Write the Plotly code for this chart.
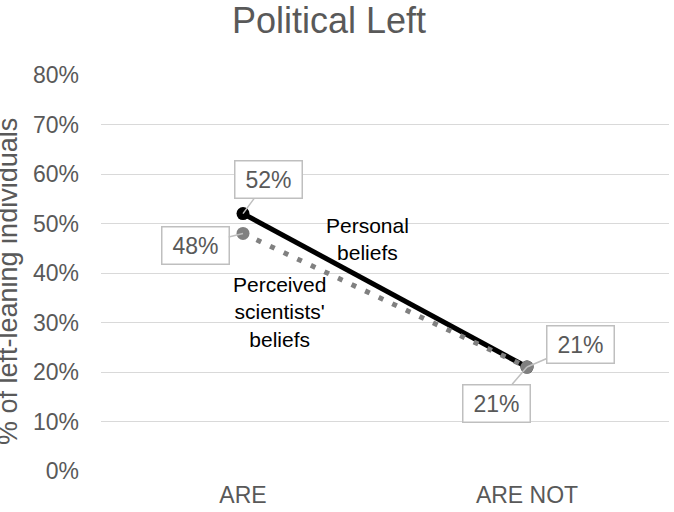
import plotly.graph_objects as go

categories = ["ARE", "ARE NOT"]
personal = [0.52, 0.21]
perceived = [0.48, 0.21]
tick_vals = [0, 0.1, 0.2, 0.3, 0.4, 0.5, 0.6, 0.7, 0.8]
tick_text = ["0%", "10%", "20%", "30%", "40%", "50%", "60%", "70%", "80%"]

FONT = "Liberation Sans, Arial"

fig = go.Figure()
fig.add_trace(go.Scatter(
    x=categories, y=personal, mode="lines+markers",
    line=dict(color="#000000", width=5),
    marker=dict(color="#000000", size=13, line=dict(width=0)),
    showlegend=False,
))
fig.add_trace(go.Scatter(
    x=categories, y=perceived, mode="lines+markers",
    line=dict(color="#808080", width=5, dash="5px,10px"),
    marker=dict(color="#808080", size=13, line=dict(width=0)),
    showlegend=False,
))

lab_font = dict(family=FONT, size=23, color="#595959")
box = dict(bordercolor="#BFBFBF", borderwidth=1.5, bgcolor="white", borderpad=3,
           width=60, height=30,
           showarrow=True, arrowhead=0, arrowcolor="#BFBFBF", arrowwidth=1.5, font=lab_font,
           xref="x", yref="y", axref="pixel", ayref="pixel")
ann = [
    dict(x=categories[0], y=personal[0], text="52%", ax=25, ay=-34, **box),
    dict(x=categories[0], y=perceived[0], text="48%", ax=-48, ay=12, **box),
    dict(x=categories[1], y=personal[1], text="21%", ax=53, ay=-23, **box),
    dict(x=categories[1], y=perceived[1], text="21%", ax=-31, ay=36, **box),
    dict(x=0.437, y=0.469, xref="x", yref="y", text="Personal<br>beliefs", showarrow=False,
         font=dict(family=FONT, size=21, color="#000000")),
    dict(x=0.13, y=0.321, xref="x", yref="y", text="Perceived<br>scientists'<br>beliefs", showarrow=False,
         font=dict(family=FONT, size=21, color="#000000")),
    dict(x=(8 - 101) / 568, y=(471 - 282) / 396, xref="paper", yref="paper",
         text="% of left-leaning individuals",
         textangle=-90, showarrow=False, xanchor="center", yanchor="middle",
         font=dict(family=FONT, size=27, color="#595959")),
]

fig.update_layout(
    width=674, height=512,
    margin=dict(l=101, r=5, t=75, b=41),
    paper_bgcolor="white", plot_bgcolor="white",
    title=dict(text="Political Left", x=329 / 674, xanchor="center", xref="container",
               y=1 - 20 / 512, yref="container", yanchor="middle",
               font=dict(family=FONT, size=36, color="#595959")),
    annotations=ann,
    xaxis=dict(type="category", range=[-0.5, 1.5], showgrid=False, showline=False, zeroline=False,
               ticks="", ticklabelstandoff=8,
               tickfont=dict(family=FONT, size=23, color="#595959")),
    yaxis=dict(range=[0, 0.8], tickvals=tick_vals, ticktext=tick_text, showgrid=True,
               gridcolor="#D9D9D9", gridwidth=1.3, zeroline=False, showline=False, ticks="",
               ticklabelstandoff=21,
               tickfont=dict(family=FONT, size=23, color="#595959")),
)

fig.write_html("out.html", config={"displayModeBar": False},
               post_script="document.body.style.margin='0';")
